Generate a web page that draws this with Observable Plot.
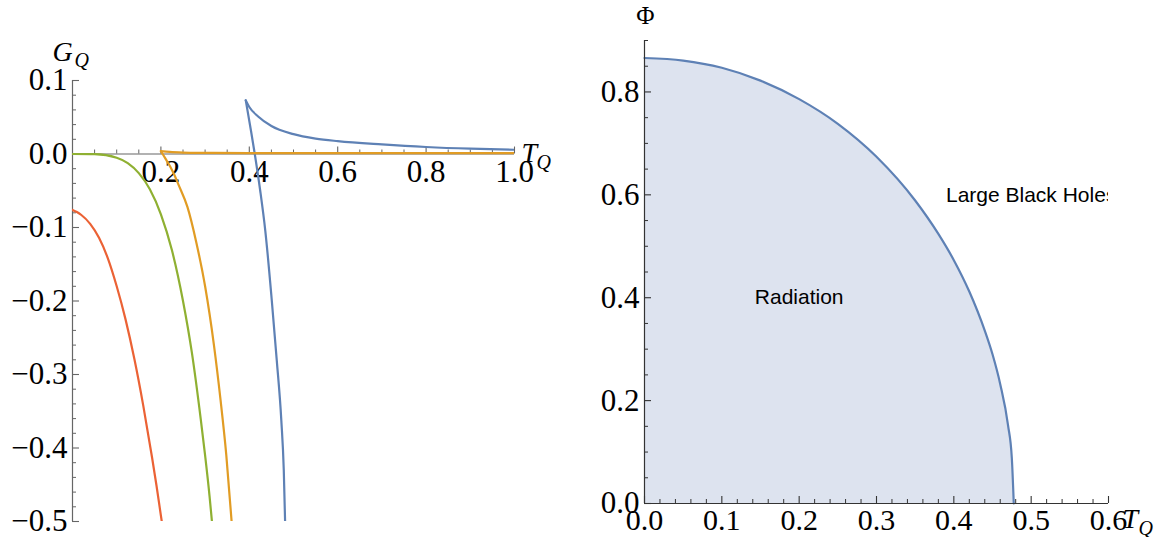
<!DOCTYPE html>
<html>
<head>
<meta charset="utf-8">
<script src="https://cdn.jsdelivr.net/npm/d3@7"></script>
<script src="https://cdn.jsdelivr.net/npm/@observablehq/plot@0.6"></script>
<style>
  html, body { margin: 0; padding: 0; background: #fff; }
  #wrap { position: relative; width: 1163px; height: 537px; overflow: hidden; }
  #left { position: absolute; left: 0; top: 0; }
  #right { position: absolute; left: 581px; top: 0; }
  svg { overflow: visible; }
</style>
</head>
<body>
<div id="wrap"><div id="left"></div><div id="right"></div></div>
<script>
// ---------- Left panel data: G_Q vs T_Q ----------
const blueUpperT = [0.392, 0.40, 0.42, 0.45, 0.50, 0.55, 0.60, 0.70, 0.80, 0.90, 1.00];
const blueUpperG = [0.073, 0.064, 0.051, 0.038, 0.027, 0.021, 0.0175, 0.013, 0.0095, 0.0072, 0.0058];
const blueLowerT = [0.392, 0.404, 0.4124, 0.4247, 0.4362, 0.4509, 0.4622, 0.4724, 0.478, 0.481];
const blueLowerG = [0.073, 0.031, 0.0, -0.050, -0.1045, -0.1995, -0.281, -0.362, -0.430, -0.500];

const orangeUpperT = [0.20, 0.22, 0.25, 0.30, 0.40, 0.60, 0.80, 1.00];
const orangeUpperG = [0.004, 0.0028, 0.002, 0.0016, 0.0013, 0.0012, 0.0012, 0.0012];
const orangeLowerT = [0.20, 0.21, 0.22, 0.23, 0.24, 0.26, 0.28, 0.30, 0.32, 0.335, 0.348, 0.36];
const orangeLowerG = [0.004, -0.006, -0.016, -0.028, -0.042, -0.072, -0.120, -0.180, -0.260, -0.335, -0.410, -0.500];

const greenT = [0, 0.05, 0.10, 0.125, 0.15, 0.175, 0.20, 0.225, 0.25, 0.27, 0.29, 0.30, 0.31, 0.3155];
const greenG = [0, -0.0003, -0.005, -0.0125, -0.026, -0.048, -0.082, -0.131, -0.200, -0.270, -0.360, -0.410, -0.465, -0.500];

const redT = [0, 0.01, 0.02, 0.04, 0.06, 0.08, 0.10, 0.12, 0.14, 0.16, 0.18, 0.19, 0.20, 0.202];
const redG = [-0.076, -0.079, -0.083, -0.095, -0.114, -0.142, -0.180, -0.225, -0.279, -0.342, -0.413, -0.451, -0.492, -0.500];

const leftXMajor = [0.2, 0.4, 0.6, 0.8, 1.0];
const leftXLabels = ["0.2", "0.4", "0.6", "0.8", "1.0"];
const leftYMajor = [0.1, 0.0, -0.1, -0.2, -0.3, -0.4, -0.5];
const leftYLabels = ["0.1", "0.0", "\u22120.1", "\u22120.2", "\u22120.3", "\u22120.4", "\u22120.5"];

// ---------- Right panel data: Phi vs T_Q ----------
const phaseT = [0, 0.05, 0.10, 0.15, 0.20, 0.25, 0.30, 0.35, 0.38, 0.40, 0.42, 0.44, 0.45, 0.46, 0.47, 0.475, 0.4775];
const phasePhi = [0.866, 0.861, 0.847, 0.822, 0.786, 0.738, 0.674, 0.589, 0.524, 0.473, 0.412, 0.336, 0.290, 0.232, 0.153, 0.088, 0];

const rightXMajor = [0, 0.1, 0.2, 0.3, 0.4, 0.5, 0.6];
const rightXLabels = ["0.0", "0.1", "0.2", "0.3", "0.4", "0.5", "0.6"];
const rightYMajor = [0, 0.2, 0.4, 0.6, 0.8];
const rightYLabels = ["0.0", "0.2", "0.4", "0.6", "0.8"];

const regionLabels = ["Radiation", "Large Black Holes"];
const regionT = [0.2, 0.5];
const regionPhi = [0.4, 0.6];

// ---------- styles ----------
const COL = {blue: "#5E81B5", orange: "#E19C24", green: "#8FB032", red: "#EB6235"};
const serif = "Liberation Serif, Times New Roman, Times, serif";
const sans = "Liberation Sans, Arial, Helvetica, sans-serif";
const LW = 2.2;
const FS = 31;

const zip = (ts, gs) => ts.map((t, i) => ({t, g: gs[i]}));
const isMajor = (v, majors) => majors.some(m => Math.abs(m - v) < 1e-9);

// ---------- Left plot ----------
const LH = 537, LW_ = 581, LmT = 80, LmB = 16, LmL = 72, LmR = 67;
const lyPerPx = 0.6 / (LH - LmT - LmB);
const lxPerPx = 1.0 / (LW_ - LmL - LmR);
const leftXMinor = d3.range(0.05, 1.0001, 0.05).filter(v => !isMajor(v, leftXMajor));
const leftYMinor = d3.range(-0.5, 0.1001, 0.02).filter(v => !isMajor(v, leftYMajor));
const axL = "#666";

const left = Plot.plot({
  width: LW_, height: LH,
  marginTop: LmT, marginBottom: LmB, marginLeft: LmL, marginRight: LmR,
  x: {domain: [0, 1], axis: null},
  y: {domain: [-0.5, 0.1], axis: null},
  style: {background: "transparent", overflow: "visible"},
  marks: [
    Plot.ruleY([0], {x1: 0, x2: 1, stroke: axL, strokeWidth: 1.2}),
    Plot.ruleX([0], {y1: -0.5, y2: 0.1, stroke: axL, strokeWidth: 1.2}),
    Plot.ruleX(leftXMajor, {x: d => d, y1: 0, y2: 7 * lyPerPx, stroke: axL, strokeWidth: 1.1}),
    Plot.ruleX(leftXMinor, {x: d => d, y1: 0, y2: 4 * lyPerPx, stroke: axL, strokeWidth: 1}),
    Plot.ruleY(leftYMajor, {y: d => d, x1: 0, x2: 7 * lxPerPx, stroke: axL, strokeWidth: 1.1}),
    Plot.ruleY(leftYMinor, {y: d => d, x1: 0, x2: 4 * lxPerPx, stroke: axL, strokeWidth: 1}),
    Plot.text(leftXMajor, {x: d => d, y: 0, text: (d, i) => leftXLabels[i], lineAnchor: "top", dy: 6,
      fontSize: FS, fontFamily: serif, fill: "black"}),
    Plot.text(leftYMajor, {x: 0, y: d => d, text: (d, i) => leftYLabels[i], textAnchor: "end", dx: -5,
      fontSize: FS, fontFamily: serif, fill: "black"}),
    // curves
    Plot.line(zip(blueUpperT, blueUpperG), {x: "t", y: "g", stroke: COL.blue, strokeWidth: LW, curve: "monotone-x", clip: true}),
    Plot.line(zip(blueLowerT, blueLowerG), {x: "t", y: "g", stroke: COL.blue, strokeWidth: LW, curve: "monotone-x", clip: true}),
    Plot.line(zip(orangeUpperT, orangeUpperG), {x: "t", y: "g", stroke: COL.orange, strokeWidth: LW, curve: "monotone-x", clip: true}),
    Plot.line(zip(orangeLowerT, orangeLowerG), {x: "t", y: "g", stroke: COL.orange, strokeWidth: LW, curve: "monotone-x", clip: true}),
    Plot.line(zip(greenT, greenG), {x: "t", y: "g", stroke: COL.green, strokeWidth: LW, curve: "monotone-x", clip: true}),
    Plot.line(zip(redT, redG), {x: "t", y: "g", stroke: COL.red, strokeWidth: LW, curve: "monotone-x", clip: true}),
    // axis labels
    Plot.text(["G"], {x: 0, y: 0.1, dx: -20, dy: -20, lineAnchor: "bottom", textAnchor: "start",
      fontSize: 28, fontStyle: "italic", fontFamily: serif, fill: "black"}),
    Plot.text(["Q"], {x: 0, y: 0.1, dx: 2, dy: -14, lineAnchor: "bottom", textAnchor: "start",
      fontSize: 20, fontStyle: "italic", fontFamily: serif, fill: "black"}),
    Plot.text(["T"], {x: 1, y: 0, dx: 7, dy: 8, lineAnchor: "bottom", textAnchor: "start",
      fontSize: 28, fontStyle: "italic", fontFamily: serif, fill: "black"}),
    Plot.text(["Q"], {x: 1, y: 0, dx: 22, dy: 15, lineAnchor: "bottom", textAnchor: "start",
      fontSize: 20, fontStyle: "italic", fontFamily: serif, fill: "black"})
  ]
});
document.getElementById("left").appendChild(left);

// ---------- Right plot ----------
const RH = 537, RW = 582, RmT = 40, RmB = 34, RmL = 63, RmR = 55;
const ryPerPx = 0.9 / (RH - RmT - RmB);
const rxPerPx = 0.6 / (RW - RmL - RmR);
const rightXMinor = d3.range(0.02, 0.6001, 0.02).filter(v => !isMajor(v, rightXMajor));
const rightYMinor = d3.range(0.05, 0.9001, 0.05).filter(v => !isMajor(v, rightYMajor));
const axR = "#333";
const phase = zip(phaseT, phasePhi);

const right = Plot.plot({
  width: RW, height: RH,
  marginTop: RmT, marginBottom: RmB, marginLeft: RmL, marginRight: RmR,
  x: {domain: [0, 0.6], axis: null},
  y: {domain: [0, 0.9], axis: null},
  style: {background: "transparent", overflow: "visible"},
  marks: [
    Plot.areaY(phase, {x: "t", y: "g", fill: "#DDE3EF", curve: "monotone-x"}),
    Plot.line(phase, {x: "t", y: "g", stroke: COL.blue, strokeWidth: LW, curve: "monotone-x"}),
    Plot.ruleY([0], {x1: 0, x2: 0.6, stroke: axR, strokeWidth: 1.2}),
    Plot.ruleX([0], {y1: 0, y2: 0.9, stroke: axR, strokeWidth: 1.2}),
    Plot.ruleX(rightXMajor, {x: d => d, y1: 0, y2: 7 * ryPerPx, stroke: axR, strokeWidth: 1.1}),
    Plot.ruleX(rightXMinor, {x: d => d, y1: 0, y2: 4 * ryPerPx, stroke: axR, strokeWidth: 1}),
    Plot.ruleY(rightYMajor, {y: d => d, x1: 0, x2: 7 * rxPerPx, stroke: axR, strokeWidth: 1.1}),
    Plot.ruleY(rightYMinor, {y: d => d, x1: 0, x2: 4 * rxPerPx, stroke: axR, strokeWidth: 1}),
    Plot.text(rightXMajor, {x: d => d, y: 0, text: (d, i) => rightXLabels[i], lineAnchor: "top", dy: 5,
      fontSize: 30, fontFamily: serif, fill: "black"}),
    Plot.text(rightYMajor, {x: 0, y: d => d, text: (d, i) => rightYLabels[i], textAnchor: "end", dx: -5,
      fontSize: FS, fontFamily: serif, fill: "black"}),
    Plot.text(regionLabels, {x: (d, i) => regionT[i], y: (d, i) => regionPhi[i], text: d => d,
      fontSize: 21, fontFamily: sans, fill: "black", clip: true}),
    Plot.text(["\u03A6"], {x: 0, y: 0.9, dx: 1, dy: -17, lineAnchor: "bottom", textAnchor: "middle",
      fontSize: 25, fontFamily: serif, fill: "black"}),
    Plot.text(["T"], {x: 0.6, y: 0, dx: 14, dy: 24, lineAnchor: "bottom", textAnchor: "start",
      fontSize: 28, fontStyle: "italic", fontFamily: serif, fill: "black"}),
    Plot.text(["Q"], {x: 0.6, y: 0, dx: 30, dy: 31, lineAnchor: "bottom", textAnchor: "start",
      fontSize: 20, fontStyle: "italic", fontFamily: serif, fill: "black"})
  ]
});
document.getElementById("right").appendChild(right);
</script>
</body>
</html>
